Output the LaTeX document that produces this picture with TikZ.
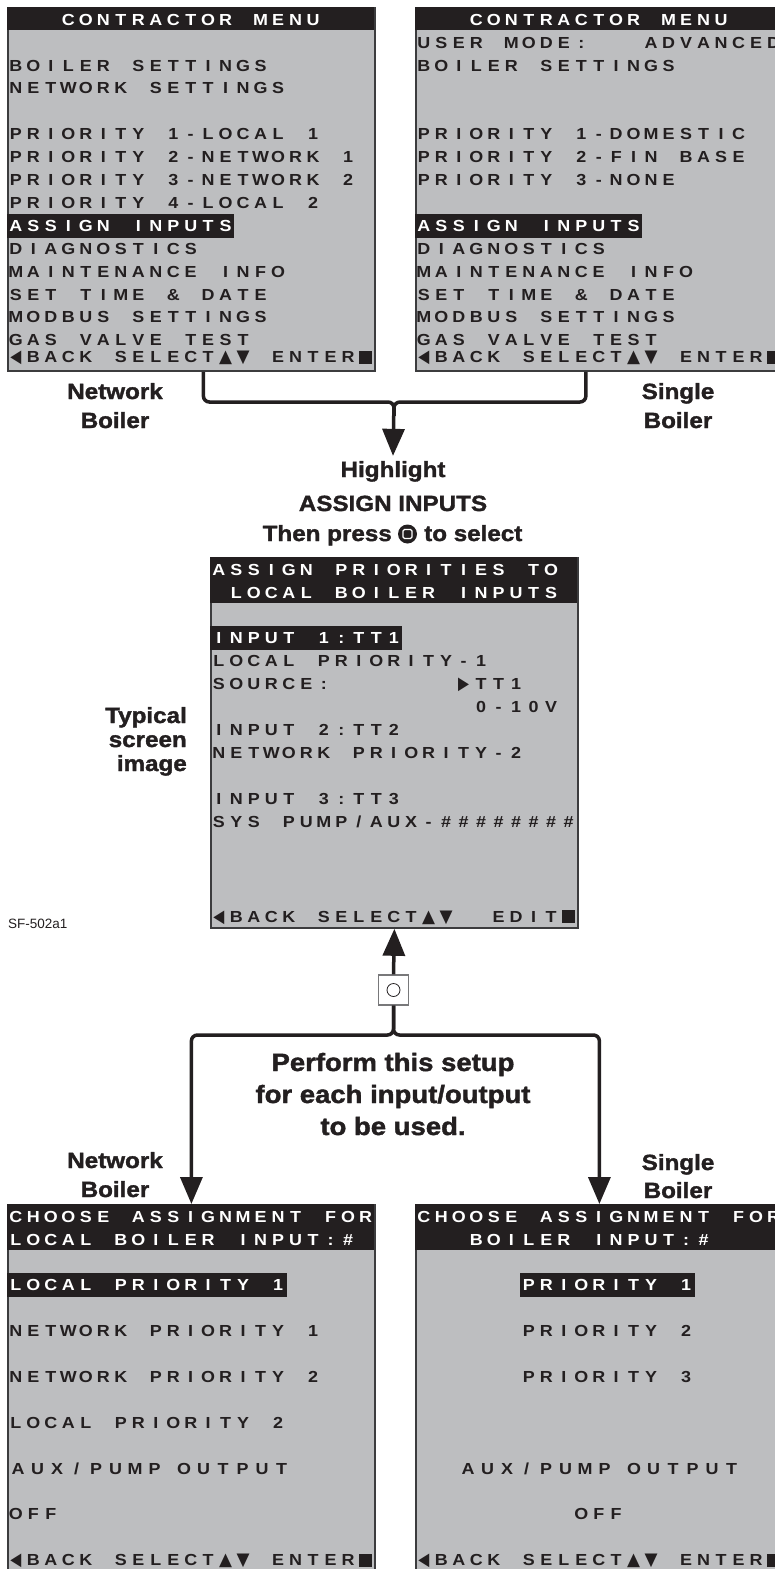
\documentclass[tikz,border=0pt]{standalone}
\usepackage{fontspec}
\usepackage{graphicx}
\usepackage{tikz}
\usetikzlibrary{arrows.meta,calc,positioning}
\setmainfont{Liberation Sans}
\newfontfamily\lblfont{Liberation Sans}[FakeStretch=1.12]
\newfontfamily\headfont{Liberation Sans}[FakeStretch=1.1,FakeBold=1.6]
\newfontfamily\symfont{DejaVu Sans}
\definecolor{inkcol}{RGB}{35,31,32}
\definecolor{lcdcol}{RGB}{189,190,192}
\definecolor{rimcol}{RGB}{60,60,62}
\definecolor{keycol}{RGB}{120,120,122}
% lcd grid: every character sits in one cell
\newlength{\cellw}\setlength{\cellw}{17.48pt}
\def\cw{17.48}
\def\rh{22.9}
\def\lcdend{LCD-END}
\def\lcdstep#1{\ifx#1\lcdend\else\makebox[\cellw][c]{#1}\expandafter\lcdstep\fi}
\newcommand{\lcd}[1]{\expandafter\lcdstep#1\lcdend}
\newcommand{\lcdfont}{\lblfont\bfseries\fontsize{16}{16}\selectfont}
\newcommand{\kL}{\resizebox{11pt}{11.5pt}{\symfont ◀}}
\newcommand{\kR}{\resizebox{11pt}{11.5pt}{\symfont ▶}}
\newcommand{\kU}{\resizebox{13pt}{11.5pt}{\symfont ▲}}
\newcommand{\kD}{\resizebox{13pt}{11.5pt}{\symfont ▼}}
\newcommand{\kS}{\rule[-1pt]{12.5pt}{13pt}}
\newcommand{\auxline}{\setlength{\cellw}{19.5pt}\lcd{AUX/PUMP}\hspace{10pt}\lcd{OUTPUT}}

\begin{document}
\begin{tikzpicture}[x=1pt,y=-1pt,>=Stealth,
  screen/.style={draw=rimcol,line width=1.8pt,fill=lcdcol,inner sep=0pt,anchor=north west,minimum width=367pt},
  lcd/.style={anchor=base west,inner sep=0pt,text=inkcol,font=\lcdfont},
  lcdw/.style={lcd,text=white},
  lbl/.style={anchor=base,inner sep=0pt,text=inkcol,font=\headfont\bfseries\fontsize{22}{26}\selectfont},
  biglbl/.style={lbl,font=\headfont\bfseries\fontsize{25}{28}\selectfont},
  conn/.style={draw=inkcol,line width=3.5pt,rounded corners=6pt},
  tip/.style={-{Triangle[length=27pt,width=22pt]}}]
\path[use as bounding box] (0,0) rectangle (775,1569);
\clip (0,0) rectangle (775,1569);

% top left: network boiler menu
\node[screen,minimum height=363pt] (tl) at (7,7) {};
\begin{scope}[shift={(tl.north west)}]
\fill[inkcol] (0,0) rectangle (367,23);
\fill[inkcol] (0,{12.5+9*\rh-12}) rectangle ({13*\cw},{12.5+9*\rh+12});
\node[lcdw] (tl-t) at (3*\cw,18.2) {\lcd{CONTRACTOR~MENU}};
\node[lcdw] (tl-hi) at (0,{12.5+9*\rh+5.7}) {\lcd{ASSIGN~INPUTS}};
\foreach \row/\col/\txt [count=\n] in {2/0/{BOILER~SETTINGS},3/0/{NETWORK~SETTINGS},
  5/0/{PRIORITY~1-LOCAL~1},6/0/{PRIORITY~2-NETWORK~1},7/0/{PRIORITY~3-NETWORK~2},
  8/0/{PRIORITY~4-LOCAL~2},10/0/{DIAGNOSTICS},11/0/{MAINTENANCE~INFO},
  12/0/{SET~TIME~\&~DATE},13/0/{MODBUS~SETTINGS},14/0/{GAS~VALVE~TEST},
  14.75/0/{\kL BACK~SELECT\kU\kD~ENTER\kS}}
  \node[lcd] (tl-\n) at ({\col*\cw},{12.5+\row*\rh+5.7}) {\lcd{\txt}};
\end{scope}

% top right: single boiler menu
\node[screen,minimum height=363pt] (tr) at (415,7) {};
\begin{scope}[shift={(tr.north west)}]
\fill[inkcol] (0,0) rectangle (367,23);
\fill[inkcol] (0,{12.5+9*\rh-12}) rectangle ({13*\cw},{12.5+9*\rh+12});
\node[lcdw] (tr-t) at (3*\cw,18.2) {\lcd{CONTRACTOR~MENU}};
\node[lcdw] (tr-hi) at (0,{12.5+9*\rh+5.7}) {\lcd{ASSIGN~INPUTS}};
\foreach \row/\col/\txt [count=\n] in {1/0/{USER~MODE:~~~ADVANCED},2/0/{BOILER~SETTINGS},
  5/0/{PRIORITY~1-DOMESTIC},6/0/{PRIORITY~2-FIN~BASE},7/0/{PRIORITY~3-NONE},
  10/0/{DIAGNOSTICS},11/0/{MAINTENANCE~INFO},12/0/{SET~TIME~\&~DATE},
  13/0/{MODBUS~SETTINGS},14/0/{GAS~VALVE~TEST},
  14.75/0/{\kL BACK~SELECT\kU\kD~ENTER\kS}}
  \node[lcd] (tr-\n) at ({\col*\cw},{12.5+\row*\rh+5.7}) {\lcd{\txt}};
\end{scope}

\node[lbl] (nw1) at (115,399) {Network};
\node[lbl] (nw2) at (115,428) {Boiler};
\node[lbl] (sg1) at (678,399) {Single};
\node[lbl] (sg2) at (678,428) {Boiler};

% merge of both menus
\coordinate (merge) at (394,402);
\node[lbl] (hl) at (393,477) {Highlight};
\node[lbl] (hl2) at (393,511) {ASSIGN INPUTS};
\node[lbl,anchor=base east] (press) at (392,541) {Then press};
\node[circle,fill=inkcol,minimum size=19pt,inner sep=0pt] (enterkey) at (407.5,534) {};
\draw[white,line width=1.3pt,fill=inkcol,rounded corners=1.5pt] ($(enterkey)+(-4.5,-4.5)$) rectangle ($(enterkey)+(4.5,4.5)$);
\node[lbl,anchor=base west] (tosel) at (424,541) {to select};
\draw[conn] ($(tl.south)+(12,0)$) |- (merge) -- ++(0,14);
\draw[conn,tip] ($(tr.south)+(-13.5,0)$) |- (merge) -- ($(hl.north)-(0,5)$);

% typical screen
\node[screen,minimum height=370pt] (mid) at (210,557) {};
\begin{scope}[shift={(mid.north west)}]
\fill[inkcol] (0,0) rectangle (367,46);
\fill[inkcol] (0,{12.5+3*\rh-12}) rectangle ({11*\cw},{12.5+3*\rh+12});
\node[lcdw] (mid-t1) at (0,18.2) {\lcd{ASSIGN~PRIORITIES~TO}};
\node[lcdw] (mid-t2) at (\cw,{18.2+\rh}) {\lcd{LOCAL~BOILER~INPUTS}};
\node[lcdw] (mid-hi) at (0,{12.5+3*\rh+5.7}) {\lcd{INPUT~1:TT1}};
\foreach \row/\col/\txt [count=\n] in {4/0/{LOCAL~PRIORITY-1},5/0/{SOURCE:},5/14/{\kR TT1},
  6/15/{0-10V},7/0/{INPUT~2:TT2},8/0/{NETWORK~PRIORITY-2},10/0/{INPUT~3:TT3},
  11/0/{SYS~PUMP/AUX-\#\#\#\#\#\#\#\#},15.15/0/{\kL BACK~SELECT\kU\kD~~EDIT\kS}}
  \node[lcd] (mid-\n) at ({\col*\cw},{12.5+\row*\rh+5.7}) {\lcd{\txt}};
\end{scope}

\node[lbl,anchor=base east] (ty1) at (187,723) {Typical};
\node[lbl,anchor=base east] (ty2) at (187,747) {screen};
\node[lbl,anchor=base east] (ty3) at (187,771) {image};
\node[anchor=base west,inner sep=0pt,text=inkcol,font=\fontsize{13.5}{14}\selectfont] (sfcode) at (8,928) {SF-502a1};

% key and split to the assignment screens
\node[draw=keycol,line width=1.2pt,fill=white,minimum size=30pt,inner sep=0pt] (okkey) at (393.5,990) {};
\draw[inkcol,line width=0.8pt] (okkey.center) circle (6.5);
\coordinate (split) at (393.5,1035);
\draw[conn,tip] (okkey.north) -- (mid.south);
\node[biglbl] (pf1) at (393,1071) {Perform this setup};
\node[biglbl] (pf2) at (393,1103) {for each input/output};
\node[biglbl] (pf3) at (393,1135) {to be used.};
\node[lbl] (nw3) at (115,1168) {Network};
\node[lbl] (nw4) at (115,1197) {Boiler};
\node[lbl] (sg3) at (678,1170) {Single};
\node[lbl] (sg4) at (678,1198) {Boiler};

% bottom left: network boiler assignment
\node[screen,minimum height=390pt] (bl) at (7,1204) {};
\begin{scope}[shift={(bl.north west)}]
\fill[inkcol] (0,0) rectangle (367,46);
\fill[inkcol] (0,{12.5+3*\rh-12}) rectangle ({16*\cw},{12.5+3*\rh+12});
\node[lcdw] (bl-t1) at (0,18.2) {\lcd{CHOOSE~ASSIGNMENT~FOR}};
\node[lcdw] (bl-t2) at (0,{18.2+\rh}) {\lcd{LOCAL~BOILER~INPUT:\#}};
\node[lcdw] (bl-hi) at (0,{12.5+3*\rh+5.7}) {\lcd{LOCAL~PRIORITY~1}};
\foreach \row/\col/\txt [count=\n] in {5/0/{NETWORK~PRIORITY~1},7/0/{NETWORK~PRIORITY~2},
  9/0/{LOCAL~PRIORITY~2},13/0/{OFF},15/0/{\kL BACK~SELECT\kU\kD~ENTER\kS}}
  \node[lcd] (bl-\n) at ({\col*\cw},{12.5+\row*\rh+5.7}) {\lcd{\txt}};
\node[lcd] (bl-aux) at (1.25,{12.5+11*\rh+5.7}) {\auxline};
\end{scope}

% bottom right: single boiler assignment
\node[screen,minimum height=390pt] (br) at (415,1204) {};
\begin{scope}[shift={(br.north west)}]
\fill[inkcol] (0,0) rectangle (367,46);
\fill[inkcol] ({6*\cw},{12.5+3*\rh-12}) rectangle ({16*\cw},{12.5+3*\rh+12});
\node[lcdw] (br-t1) at (0,18.2) {\lcd{CHOOSE~ASSIGNMENT~FOR}};
\node[lcdw] (br-t2) at (3*\cw,{18.2+\rh}) {\lcd{BOILER~INPUT:\#}};
\node[lcdw] (br-hi) at (6*\cw,{12.5+3*\rh+5.7}) {\lcd{PRIORITY~1}};
\foreach \row/\col/\txt [count=\n] in {5/6/{PRIORITY~2},7/6/{PRIORITY~3},
  13/9/{OFF},15/0/{\kL BACK~SELECT\kU\kD~ENTER\kS}}
  \node[lcd] (br-\n) at ({\col*\cw},{12.5+\row*\rh+5.7}) {\lcd{\txt}};
\node[lcd] (br-aux) at (43.25,{12.5+11*\rh+5.7}) {\auxline};
\end{scope}

\draw[conn,tip] (okkey.south) -- (split) -| (bl.north);
\draw[conn,tip] (okkey.south) -- (split) -| (br.north);
\end{tikzpicture}
\end{document}
